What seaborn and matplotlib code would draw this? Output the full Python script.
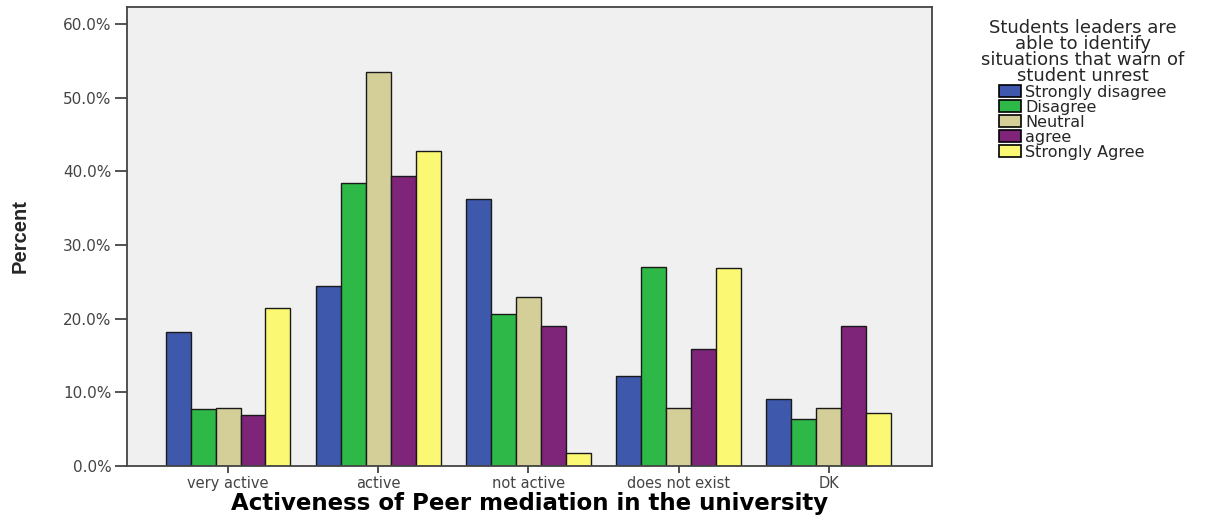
import numpy as np
import pandas as pd
import matplotlib
matplotlib.use("Agg")
import matplotlib.pyplot as plt
import seaborn as sns
from matplotlib.ticker import FuncFormatter

# =========================================================
# DATA (percent)
# =========================================================

categories = ["very active", "active", "not active", "does not exist", "DK"]
responses = ["Strongly disagree", "Disagree", "Neutral", "agree", "Strongly Agree"]

strongly_disagree = [18.2, 24.4, 36.3, 12.2, 9.1]
disagree = [7.7, 38.4, 20.6, 27.0, 6.4]
neutral = [7.9, 53.5, 22.9, 7.9, 7.9]
agree = [6.9, 39.4, 19.0, 15.9, 19.0]
strongly_agree = [21.5, 42.8, 1.8, 26.9, 7.2]

colors = ["#3E58AC", "#2EB848", "#D4CF98", "#7E2479", "#FBF873"]

series = [strongly_disagree, disagree, neutral, agree, strongly_agree]
rows = []
for resp, vals in zip(responses, series):
    for cat, v in zip(categories, vals):
        rows.append({"category": cat, "response": resp, "percent": v})
df = pd.DataFrame(rows)

# =========================================================
# PLOT
# =========================================================

sns.set_style("white")
plt.rcParams["font.family"] = ["DejaVu Sans"]

fig = plt.figure(figsize=(12.28, 5.18), dpi=100)
ax = fig.add_axes([0.1034, 0.1004, 0.6555, 0.886])
ax.set_facecolor("#F0F0F0")

sns.barplot(
    data=df,
    x="category",
    y="percent",
    hue="response",
    order=categories,
    hue_order=responses,
    palette=colors,
    width=0.83,
    edgecolor="#1a1a1a",
    linewidth=1.0,
    saturation=1,
    errorbar=None,
    ax=ax,
)

ax.set_ylim(0, 62.3)
ax.set_xlim(-0.673, 4.687)
ax.set_yticks(np.arange(0, 61, 10))
ax.yaxis.set_major_formatter(FuncFormatter(lambda v, p: f"{v:.1f}%"))

for sp in ax.spines.values():
    sp.set_color("#444444")
    sp.set_linewidth(1.3)

ax.tick_params(axis="y", left=True, direction="out", length=9, width=1.3,
               color="#444444", labelsize=11, labelcolor="#444444", pad=2)
ax.tick_params(axis="x", bottom=True, direction="out", length=5, width=1.3,
               color="#444444", labelsize=10.5, labelcolor="#444444", pad=2)

ax.set_xlabel("Activeness of Peer mediation in the university",
              fontsize=16.5, fontweight="bold", labelpad=1, color="black")
ax.set_ylabel("Percent", fontsize=14.5, fontweight="bold",
              family=["Liberation Sans Narrow", "Liberation Sans"], labelpad=24)

handles, labels = ax.get_legend_handles_labels()
ax.legend_.remove()
leg = fig.legend(
    handles, labels,
    title="Students leaders are\nable to identify\nsituations that warn of\nstudent unrest",
    loc="upper center",
    bbox_to_anchor=(1083 / 1228, 1 - 8 / 518),
    frameon=False,
    fontsize=11.5,
    title_fontsize=13,
    labelspacing=0.0,
    handlelength=1.4,
    handleheight=0.8,
    handletextpad=0.25,
    borderpad=0.2,
)
leg.get_title().set_multialignment("center")
leg.get_title().set_linespacing(0.85)
for h in leg.legend_handles:
    h.set_edgecolor("black")
    h.set_linewidth(1.2)

fig.savefig("out.png", dpi=100, facecolor="white")
